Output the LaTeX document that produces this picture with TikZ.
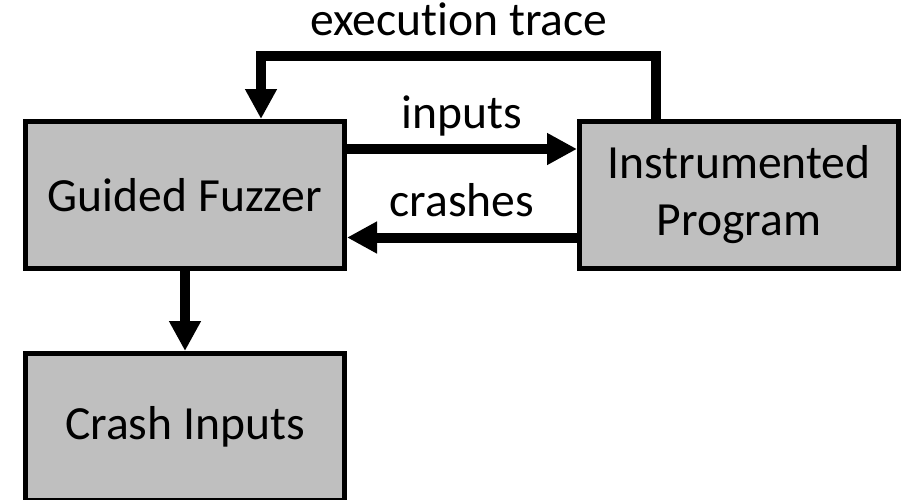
\documentclass[tikz,border=0pt]{standalone}
\usepackage{fontspec}
\setmainfont{Carlito}[Ligatures=NoCommon]
\usepackage{tikz}
\usetikzlibrary{arrows.meta}
\definecolor{boxgray}{RGB}{191,191,191}

\begin{document}
\begin{tikzpicture}[x=0.5pt,y=-0.5pt,
  box/.style={draw,fill=boxgray,line width=2.5pt,minimum width=159.5pt,
    minimum height=73.5pt,align=center,font=\fontsize{23.8}{28.5}\selectfont},
  flow/.style={line width=5pt,-{Triangle[length=15pt,width=15pt]}},
  lbl/.style={anchor=base,yshift=10.5pt,inner sep=0pt,font=\fontsize{23.8}{28.5}\selectfont}]
\useasboundingbox (0,0) rectangle (910,499);
\clip (0,0) rectangle (910,499);
\node at (185,195) [box](fuzz){Guided Fuzzer};
\node at (739,194.5) [box](prog){Instrumented\\Program};
\node at (185,427) [box](crash){Crash Inputs};
\draw[flow] ([xshift=-41.5pt]prog.north) -- ++(0,-62.5) node[lbl,pos=1,xshift=-98.5pt]{execution trace}
  -| ([xshift=38pt]fuzz.north);
\draw[flow] ([yshift=23pt]fuzz.east) -- ([yshift=23pt]fuzz.east -| prog.west) node[lbl,midway]{inputs};
\draw[flow] ([yshift=-21.5pt]prog.west) -- ([yshift=-21.5pt]prog.west -| fuzz.east) node[lbl,midway]{crashes};
\draw[flow] (fuzz) -- (crash);
\end{tikzpicture}
\end{document}
